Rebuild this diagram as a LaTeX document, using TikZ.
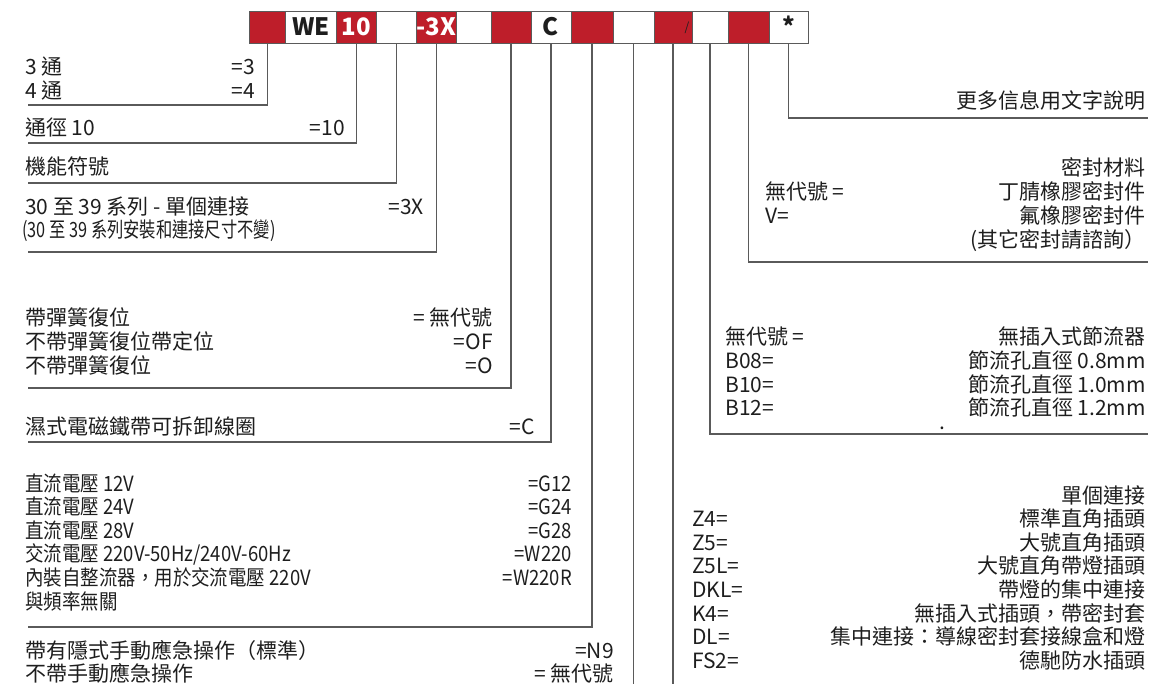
\documentclass[tikz,border=0pt]{standalone}
\usepackage{fontspec}
\setmainfont{Noto Sans CJK TC}
\newfontfamily\voltfont[FakeStretch=0.88]{Noto Sans CJK TC}
\newfontfamily\notefont[FakeStretch=0.775]{Noto Sans CJK TC}
\usepackage{tikz}
\usetikzlibrary{matrix}
\definecolor{codered}{RGB}{190,30,42}
\definecolor{ink}{RGB}{30,30,30}
\definecolor{leadgray}{RGB}{90,90,90}

\begin{document}
\begin{tikzpicture}[x=1pt, y=-1pt,
  txt/.style={font=\fontsize{21}{23.6}\selectfont, text=ink, inner sep=0pt, align=left},
  num/.style={txt, align=right},
  lead/.style={draw=leadgray, line width=1.2pt},
  rc/.style={fill=codered, text=white}]
  \useasboundingbox (0,0) rectangle (1176,684);
  \matrix (m) [matrix of nodes, nodes in empty cells, anchor=north west, inner sep=0pt, outer sep=0pt, column sep=-0.8pt,
         nodes={draw=leadgray, line width=0.8pt, minimum height=32pt, text height=17pt, text depth=0pt,
                inner sep=0pt, outer sep=0pt, font=\fontsize{24}{24}\selectfont\bfseries, text=ink}] at (249,11)
         {
            |[rc, minimum width=36pt]| & |[minimum width=51pt]| WE & |[rc, minimum width=40pt]| 10 & |[minimum width=40pt]|
            & |[rc, minimum width=39pt]| -3X & |[minimum width=35pt]| & |[rc, minimum width=40pt]| & |[minimum width=40pt]| C
            & |[rc, minimum width=42pt]| & |[minimum width=41pt]| & |[rc, minimum width=38pt]| & |[minimum width=36pt]|
            & |[rc, minimum width=41pt]| & |[minimum width=39pt]| * \\
  };
  \node[font=\fontsize{12}{12}\selectfont, text=ink, inner sep=0pt] (slash) at ([xshift=-5pt]m-1-11.east) {/};

  \node[txt, anchor=base west] (way) at (25,98.6) {3 通\\4 通};
  \node[num, anchor=base east] (wayc) at (255,98.6) {=3\\=4};
  \node[txt, anchor=base west] (size) at (25,136) {通徑 10};
  \node[num, anchor=base east] (sizec) at (345,136) {=10};
  \node[txt, anchor=base west] (func) at (25,175) {機能符號};
  \node[txt, anchor=base west] (ser) at (25,215) {30 至 39 系列 - 單個連接};
  \node[num, anchor=base east] (serc) at (424,215) {=3X};
  \node[txt, font=\notefont\fontsize{21}{23.6}\selectfont, anchor=base west] (sern) at (22,238) {(30 至 39 系列安裝和連接尺寸不變)};
  \node[txt, anchor=base west] (spr) at (25,373.2) {帶彈簧復位\\不帶彈簧復位帶定位\\不帶彈簧復位};
  \node[num, anchor=base east] (sprc) at (493,373.2) {= 無代號\\=OF\\=O};
  \node[txt, anchor=base west] (coil) at (25,435) {濕式電磁鐵帶可拆卸線圈};
  \node[num, anchor=base east] (coilc) at (535,435) {=C};
  \node[txt, font=\voltfont\fontsize{21}{23.6}\selectfont, anchor=base west] (volt) at (25,609) {直流電壓 12V\\直流電壓 24V\\直流電壓 28V\\交流電壓 220V-50Hz/240V-60Hz\\內裝自整流器，用於交流電壓 220V\\與頻率無關};
  \node[num, font=\voltfont\fontsize{21}{23.6}\selectfont, anchor=base east] (voltc) at (572,585.4) {=G12\\=G24\\=G28\\=W220\\=W220R};
  \node[txt, anchor=base west] (man) at (25,681.6) {帶有隱式手動應急操作（標準）\\不帶手動應急操作};
  \node[num, anchor=base east] (manc) at (614,681.6) {=N9\\= 無代號};

  \node[txt, anchor=base east] (info) at (1146,109) {更多信息用文字說明};
  \node[num, anchor=base east] (seal) at (1146,223.2) {密封材料\\丁腈橡膠密封件\\氟橡膠密封件};
  \node[txt, anchor=base west] (sealc) at (765,223.2) {無代號 =\\V=};
  \node[txt, anchor=base east] (sealn) at (1146,248) {(其它密封請諮詢）};
  \node[num, anchor=base east] (thr) at (1146,415.8) {無插入式節流器\\節流孔直徑 0.8mm\\節流孔直徑 1.0mm\\節流孔直徑 1.2mm};
  \node[txt, anchor=base west] (thrc) at (725,415.8) {無代號 =\\B08=\\B10=\\B12=};
  \node[txt, anchor=base] (dot) at (942,430) {.};
  \node[num, anchor=base east] (plug) at (1146,668.2) {單個連接\\標準直角插頭\\大號直角插頭\\大號直角帶燈插頭\\帶燈的集中連接\\無插入式插頭，帶密封套\\集中連接：導線密封套接線盒和燈\\德馳防水插頭};
  \node[txt, anchor=base west] (plugc) at (692,668.2) {Z4=\\Z5=\\Z5L=\\DKL=\\K4=\\DL=\\FS2=};

  \coordinate (c1) at (28,105);
  \coordinate (c3) at (28,143);
  \coordinate (c4) at (28,183);
  \coordinate (c5) at (28,252);
  \coordinate (c7) at (28,388);
  \coordinate (c8) at (28,442);
  \coordinate (c9) at (28,627);
  \coordinate (bot) at (0,684);
  \coordinate (c12) at (1148,434);
  \coordinate (c13) at (1148,262);
  \coordinate (c14) at (1148,118);
  \draw[lead] (m-1-1.south) |- (c1);
  \draw[lead] (m-1-3.south) |- (c3);
  \draw[lead] (m-1-4.south) |- (c4);
  \draw[lead] (m-1-5.south) |- (c5);
  \draw[lead] (m-1-7.south) |- (c7);
  \draw[lead] (m-1-8.south) |- (c8);
  \draw[lead] (m-1-9.south) |- (c9);
  \draw[lead] (m-1-10.south) -- (m-1-10.south |- bot);
  \draw[lead] (m-1-11.south) -- (m-1-11.south |- bot);
  \draw[lead] (m-1-12.south) |- (c12);
  \draw[lead] (m-1-13.south) |- (c13);
  \draw[lead] (m-1-14.south) |- (c14);
\end{tikzpicture}
\end{document}
